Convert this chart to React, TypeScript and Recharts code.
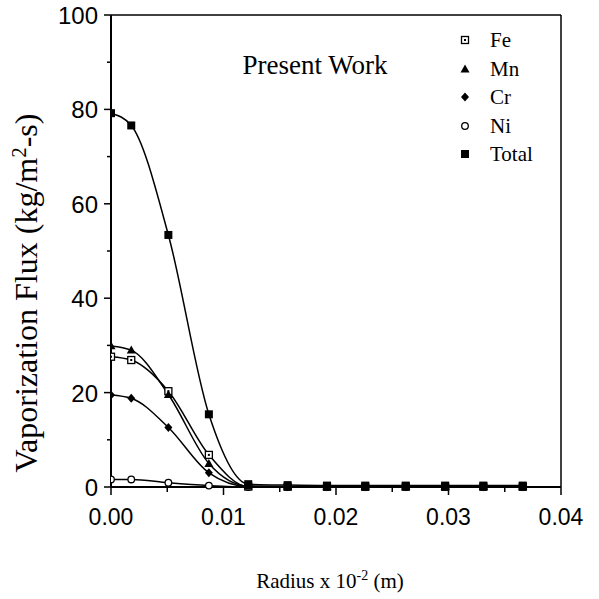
import React from 'react';
import { LineChart, Line, XAxis, YAxis, ReferenceLine, Legend } from 'recharts';

// radius (x 10^-2 m) and vaporization flux (kg/m2-s)
const radius = [0, 0.0018, 0.0051, 0.0087, 0.0122, 0.0157, 0.0192, 0.0226, 0.0262, 0.0297, 0.0331, 0.0366];
const feFlux = [27.6, 26.9, 20.3, 6.8, 0.1, 0.05, 0.05, 0.05, 0.05, 0.05, 0.05, 0.05];
const mnFlux = [29.9, 29.0, 19.6, 5.0, 0.2, 0.1, 0.1, 0.1, 0.1, 0.1, 0.1, 0.1];
const crFlux = [19.5, 18.8, 12.6, 3.0, 0.1, 0.05, 0.05, 0.05, 0.05, 0.05, 0.05, 0.05];
const niFlux = [1.6, 1.6, 0.9, 0.3, 0, 0, 0, 0, 0, 0, 0, 0];
const totalFlux = [79.2, 76.6, 53.4, 15.4, 0.6, 0.4, 0.3, 0.3, 0.3, 0.3, 0.3, 0.3];

const xTicks = [0, 0.005, 0.01, 0.015, 0.02, 0.025, 0.03, 0.035, 0.04];
const yTicks = [0, 10, 20, 30, 40, 50, 60, 70, 80, 90, 100];

const legendItems = [
  { key: 'fe', label: 'Fe', shape: 'feSquare' },
  { key: 'mn', label: 'Mn', shape: 'triangle' },
  { key: 'cr', label: 'Cr', shape: 'diamond' },
  { key: 'ni', label: 'Ni', shape: 'circle' },
  { key: 'total', label: 'Total', shape: 'square' },
];

const data = radius.map((r, i) => ({
  r,
  fe: feFlux[i],
  mn: mnFlux[i],
  cr: crFlux[i],
  ni: niFlux[i],
  total: totalFlux[i],
}));

const SANS = '"Liberation Sans", Arial, sans-serif';
const SERIF = '"Liberation Serif", "Times New Roman", serif';

function Marker({ shape, cx, cy }: { shape: string; cx: number; cy: number }) {
  switch (shape) {
    case 'feSquare':
      return (
        <g>
          <rect x={cx - 3.5} y={cy - 3.5} width={7} height={7} fill="#fff" stroke="#000" strokeWidth={1.3} />
          <rect x={cx - 1} y={cy - 1} width={2} height={2} fill="#000" />
        </g>
      );
    case 'triangle':
      return <polygon points={`${cx},${cy - 4.5} ${cx + 4.5},${cy + 3.5} ${cx - 4.5},${cy + 3.5}`} fill="#000" />;
    case 'diamond':
      return <polygon points={`${cx},${cy - 4.5} ${cx + 4},${cy} ${cx},${cy + 4.5} ${cx - 4},${cy}`} fill="#000" />;
    case 'circle':
      return <circle cx={cx} cy={cy} r={3.3} fill="#fff" stroke="#000" strokeWidth={1.3} />;
    default:
      return <rect x={cx - 4} y={cy - 4} width={8} height={8} fill="#000" />;
  }
}

const dotFor = (shape: string) => (props: any) => {
  const { cx, cy, index } = props;
  if (cx == null || cy == null) return <g key={`${shape}-${index}`} />;
  return (
    <g key={`${shape}-${index}`}>
      <Marker shape={shape} cx={cx} cy={cy} />
    </g>
  );
};

const isMajor = (v: number, step: number) => Math.abs(v / step - Math.round(v / step)) < 1e-6;

function XTick(props: any) {
  const { x, y, payload } = props;
  const v = payload.value;
  const major = isMajor(v, 0.01);
  return (
    <g>
      <line x1={x} x2={x} y1={y} y2={y + (major ? 8 : 5)} stroke="#000" strokeWidth={1.5} />
      {major && (
        <text x={x} y={y + 38} textAnchor="middle" fontFamily={SANS} fontSize={23} fill="#000">
          {v.toFixed(2)}
        </text>
      )}
    </g>
  );
}

function YTick(props: any) {
  const { x, y, payload } = props;
  const v = payload.value;
  const major = isMajor(v, 20);
  return (
    <g>
      <line x1={x} x2={x - (major ? 7 : 4)} y1={y} y2={y} stroke="#000" strokeWidth={1.5} />
      {major && (
        <text x={x - 13} y={y + 9} textAnchor="end" fontFamily={SANS} fontSize={24} fill="#000">
          {v}
        </text>
      )}
    </g>
  );
}

function LegendBox() {
  return (
    <div style={{ fontFamily: SERIF, fontSize: 21, color: '#000', lineHeight: '28px' }}>
      {legendItems.map((it) => (
        <div key={it.key} style={{ display: 'flex', alignItems: 'center', height: 28.5 }}>
          <svg width={14} height={14} style={{ marginRight: 18 }}>
            <Marker shape={it.shape} cx={7} cy={7} />
          </svg>
          <span>{it.label}</span>
        </div>
      ))}
    </div>
  );
}

export default function App() {
  return (
    <div style={{ position: 'absolute', left: 0, top: 0, width: 599, height: 599, background: '#fff' }}>
      <LineChart width={599} height={599} data={data} margin={{ top: 15, right: 38, left: 51, bottom: 72 }}>
        <XAxis
          dataKey="r"
          type="number"
          domain={[0, 0.04]}
          ticks={xTicks}
          interval={0}
          tickSize={0}
          tickMargin={0}
          tickLine={false}
          tick={<XTick />}
          height={40}
          axisLine={{ stroke: '#000', strokeWidth: 2 }}
          allowDataOverflow
        />
        <YAxis
          type="number"
          domain={[0, 100]}
          ticks={yTicks}
          interval={0}
          tickSize={0}
          tickMargin={0}
          tickLine={false}
          tick={<YTick />}
          width={60}
          axisLine={{ stroke: '#000', strokeWidth: 2 }}
        />
        <ReferenceLine y={100} stroke="#000" strokeWidth={1.5} />
        <ReferenceLine x={0.04} stroke="#000" strokeWidth={1.5} />
        <Legend
          layout="horizontal"
          verticalAlign="middle"
          align="center"
          content={() => <LegendBox />}
          wrapperStyle={{ position: 'absolute', left: 458, top: 26, width: 120, height: 145 }}
        />
        <Line type="monotone" dataKey="ni" stroke="#000" strokeWidth={1.5} dot={dotFor('circle')} isAnimationActive={false} />
        <Line type="monotone" dataKey="cr" stroke="#000" strokeWidth={1.5} dot={dotFor('diamond')} isAnimationActive={false} />
        <Line type="monotone" dataKey="fe" stroke="#000" strokeWidth={1.5} dot={dotFor('feSquare')} isAnimationActive={false} />
        <Line type="monotone" dataKey="mn" stroke="#000" strokeWidth={1.5} dot={dotFor('triangle')} isAnimationActive={false} />
        <Line type="monotone" dataKey="total" stroke="#000" strokeWidth={1.5} dot={dotFor('square')} isAnimationActive={false} />
      </LineChart>
      <div
        style={{
          position: 'absolute', left: 315, top: 50, transform: 'translateX(-50%)',
          fontFamily: SERIF, fontSize: 27, whiteSpace: 'nowrap', color: '#000',
        }}
      >
        Present Work
      </div>
      <svg width={599} height={599} style={{ position: 'absolute', left: 0, top: 0, pointerEvents: 'none' }}>
        <text
          x={0}
          y={0}
          transform="translate(37 293) rotate(-90)"
          textAnchor="middle"
          fontFamily={SERIF}
          fontSize={32}
          fill="#000"
        >
          Vaporization Flux (kg/m<tspan fontSize={21} dy={-11}>2</tspan>
          <tspan dy={11}>-s)</tspan>
        </text>
        <text x={330} y={588} textAnchor="middle" fontFamily={SERIF} fontSize={21} fill="#000">
          Radius x 10<tspan fontSize={14} dy={-8}>-2</tspan>
          <tspan dy={8}> (m)</tspan>
        </text>
      </svg>
    </div>
  );
}
